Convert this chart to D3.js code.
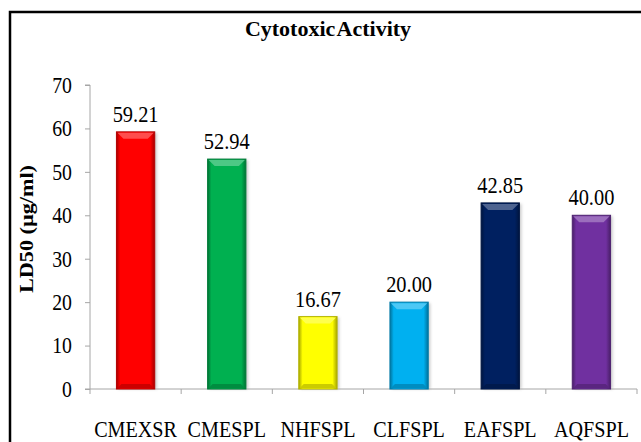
<!DOCTYPE html>
<html>
<head>
<meta charset="utf-8">
<script src="https://cdn.jsdelivr.net/npm/d3@7"></script>
<style>
  html, body { margin: 0; padding: 0; background: #fff; }
  svg { display: block; }
</style>
</head>
<body>
<svg id="chart" width="641" height="442"></svg>
<script>
const categories = ["CMEXSR", "CMESPL", "NHFSPL", "CLFSPL", "EAFSPL", "AQFSPL"];
const values = [59.21, 52.94, 16.67, 20.00, 42.85, 40.00];
const valueLabels = ["59.21", "52.94", "16.67", "20.00", "42.85", "40.00"];
const colors = ["#ff0000", "#00b050", "#ffff00", "#00b0f0", "#002060", "#7030a0"];
const yTicks = [0, 10, 20, 30, 40, 50, 60, 70];
const title = "Cytotoxic Activity";
const yTitle = "LD50 (µg/ml)";

const svg = d3.select("#chart");
const serif = "'Liberation Serif', 'Times New Roman', serif";

// frame (right and bottom cut off as in the reference)
svg.append("rect").attr("x", 10).attr("y", 12).attr("width", 700).attr("height", 500)
  .attr("fill", "none").attr("stroke", "#000").attr("stroke-width", 2.5);

const pLeft = 90, pRight = 637, pTop = 85, pBottom = 389;
const x = d3.scaleBand().domain(categories).range([pLeft, pRight])
  .paddingInner(0.58).paddingOuter(0.29);
const y = d3.scaleLinear().domain([0, 70]).range([pBottom, pTop]);
const xEdges = d3.scaleLinear().domain([0, categories.length]).range([pLeft, pRight]);

const defs = svg.append("defs");
colors.forEach((c, i) => {
  const base = d3.color(c);
  const dark = d3.interpolateRgb(c, "#000")(0.35);
  const g = defs.append("linearGradient").attr("id", "g" + i)
    .attr("x1", "0%").attr("x2", "100%").attr("y1", "0%").attr("y2", "0%");
  g.append("stop").attr("offset", "0%").attr("stop-color", dark);
  g.append("stop").attr("offset", "10%").attr("stop-color", base.formatHex());
  g.append("stop").attr("offset", "88%").attr("stop-color", base.formatHex());
  g.append("stop").attr("offset", "100%").attr("stop-color", dark);
});
const blur = defs.append("filter").attr("id", "shadow").attr("x", "-20%").attr("y", "-5%")
  .attr("width", "150%").attr("height", "115%");
blur.append("feGaussianBlur").attr("stdDeviation", 1.5);

// y axis
const yAxis = d3.axisLeft(y).tickValues(yTicks).tickSize(5).tickFormat("");
const ya = svg.append("g").attr("transform", `translate(${pLeft},0)`).call(yAxis);
ya.select(".domain").attr("stroke", "#a6a6a6").attr("d", `M-5,${pTop}H0V${pBottom}`);
ya.selectAll(".tick line").attr("stroke", "#a6a6a6");

svg.append("g").selectAll("text").data(yTicks).join("text")
  .attr("transform", d => `translate(72,${y(d)}) scale(0.86,1)`)
  .attr("text-anchor", "end").attr("dy", "0.34em")
  .attr("font-family", serif).attr("font-size", 23).attr("fill", "#000")
  .text(d => d);

// x axis line and ticks
svg.append("line").attr("x1", pLeft - 5).attr("x2", pRight).attr("y1", pBottom).attr("y2", pBottom)
  .attr("stroke", "#a6a6a6");
svg.append("g").selectAll("line").data(d3.range(categories.length + 1)).join("line")
  .attr("x1", d => xEdges(d)).attr("x2", d => xEdges(d))
  .attr("y1", pBottom).attr("y2", pBottom + 5).attr("stroke", "#a6a6a6");

// bars
const bars = svg.append("g").selectAll("g").data(categories).join("g");
bars.append("rect")
  .attr("x", d => x(d) + 2).attr("y", (d, i) => y(values[i]) + 1)
  .attr("width", x.bandwidth()).attr("height", (d, i) => pBottom - y(values[i]) - 1)
  .attr("fill", "#888").attr("opacity", 0.45).attr("filter", "url(#shadow)");
bars.append("rect")
  .attr("x", d => x(d)).attr("y", (d, i) => y(values[i]))
  .attr("width", x.bandwidth()).attr("height", (d, i) => pBottom - y(values[i]))
  .attr("fill", (d, i) => `url(#g${i})`)
  .attr("stroke", (d, i) => d3.interpolateRgb(colors[i], "#000")(0.3)).attr("stroke-width", 1);
// top bevel
bars.append("path")
  .attr("d", (d, i) => {
    const x0 = x(d) + 1, x1 = x(d) + x.bandwidth() - 1, y0 = y(values[i]) + 1, b = 6;
    return `M${x0},${y0}H${x1}L${x1 - b},${y0 + b}H${x0 + b}Z`;
  })
  .attr("fill", (d, i) => d3.interpolateRgb(colors[i], "#fff")(0.3));
// bottom bevel
bars.append("path")
  .attr("d", (d, i) => {
    const x0 = x(d) + 1, x1 = x(d) + x.bandwidth() - 1, y0 = pBottom - 1, b = 4;
    return `M${x0},${y0}H${x1}L${x1 - b},${y0 - b}H${x0 + b}Z`;
  })
  .attr("fill", (d, i) => d3.interpolateRgb(colors[i], "#000")(0.2));

// value labels
svg.append("g").selectAll("text").data(categories).join("text")
  .attr("transform", (d, i) => `translate(${x(d) + x.bandwidth() / 2},${y(values[i]) - 10}) scale(0.85,1)`)
  .attr("text-anchor", "middle")
  .attr("font-family", serif).attr("font-size", 24).attr("fill", "#000")
  .text((d, i) => valueLabels[i]);

// category labels
svg.append("g").selectAll("text").data(categories).join("text")
  .attr("transform", d => `translate(${x(d) + x.bandwidth() / 2},437) scale(0.84,1)`)
  .attr("text-anchor", "middle")
  .attr("font-family", serif).attr("font-size", 24).attr("fill", "#000")
  .text(d => d);

// title
svg.append("text").attr("x", 328).attr("y", 36).attr("text-anchor", "middle")
  .attr("font-family", serif).attr("font-size", 22).attr("font-weight", "bold")
  .attr("word-spacing", -3)
  .text(title);

// y axis title
svg.append("text")
  .attr("transform", "translate(33,229) rotate(-90) scale(1.2,1)")
  .attr("text-anchor", "middle")
  .attr("font-family", serif).attr("font-size", 18.5).attr("font-weight", "bold")
  .text(yTitle);
</script>
</body>
</html>
